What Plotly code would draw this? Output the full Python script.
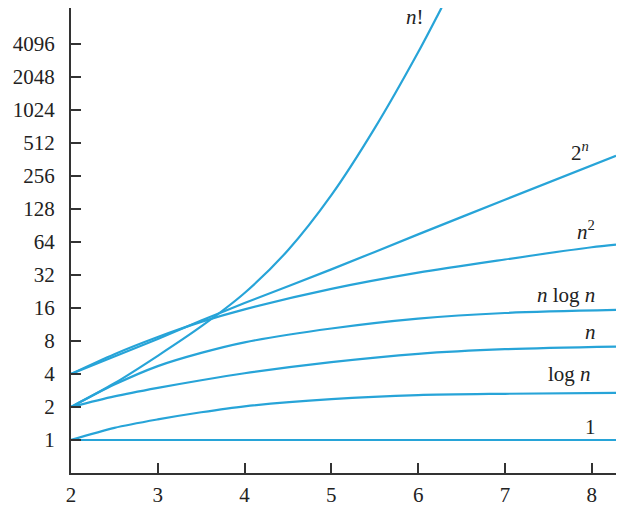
import math
import plotly.graph_objects as go

x_one = [2, 8.28]
y_one = [1, 1]

x_logn = [2, 2.5, 3, 3.5, 4, 5, 6, 7, 8.28]
y_logn = [1, 1.29, 1.54, 1.79, 2.03, 2.36, 2.57, 2.64, 2.69]

x_n = [2, 2.5, 3, 3.5, 4, 5, 6, 7, 8.28]
y_n = [2, 2.5, 2.99, 3.51, 4.06, 5.13, 6.11, 6.73, 7.11]

x_nlogn = [2, 2.5, 3, 3.5, 4, 5, 6, 7, 8.28]
y_nlogn = [2, 3.2, 4.72, 6.23, 7.78, 10.4, 12.8, 14.4, 15.35]

x_n2 = [2, 2.5, 3, 3.5, 4, 5, 6, 7, 8, 8.28]
y_n2 = [4, 6.06, 8.69, 11.96, 15.56, 23.9, 33.6, 44.3, 57.3, 60.5]

x_2n = [2, 2.5, 3, 3.5, 4, 5, 6, 7, 8.28]
y_2n = [4, 5.78, 8.34, 12.3, 17.75, 36.0, 75.1, 155.4, 390.7]

x_fact = [2, 2.5, 3, 3.5, 4, 4.5, 5, 5.5, 6, 6.27]
y_fact = [2, 3.29, 5.86, 10.85, 21.9, 53.8, 171, 699, 3440, 8780]

y_ticks = [1, 2, 4, 8, 16, 32, 64, 128, 256, 512, 1024, 2048, 4096]
x_ticks = [2, 3, 4, 5, 6, 7, 8]

curves = [
    (x_one, y_one), (x_logn, y_logn), (x_n, y_n), (x_nlogn, y_nlogn),
    (x_n2, y_n2), (x_2n, y_2n), (x_fact, y_fact),
]

# curve labels: text, x, y (real units), x anchor
labels = [
    ("<i>n</i>!", 5.96, 2 ** 12.82, "center"),
    ("2<sup><i>n</i></sup>", 7.99, 2 ** 8.73, "right"),
    ("<i>n</i><sup>2</sup>", 8.06, 2 ** 6.36, "right"),
    ("<i>n</i> log <i>n</i>", 8.06, 2 ** 4.39, "right"),
    ("<i>n</i>", 8.07, 2 ** 3.27, "right"),
    ("log <i>n</i>", 8.02, 2 ** 2.0, "right"),
    ("1", 8.07, 2 ** 0.39, "right"),
]

LINE = "#27a4d8"
AXIS = "#333333"
FONT = "Liberation Serif, Times New Roman, serif"

fig = go.Figure()
for xs, ys in curves:
    fig.add_trace(go.Scatter(
        x=xs, y=ys, mode="lines",
        line={"color": LINE, "width": 2.2, "shape": "spline", "smoothing": 0.8},
        showlegend=False, hoverinfo="skip",
    ))

# the page body adds an 8px margin, so the figure is 8px smaller than the window
fig.update_layout(
    width=630, height=506,
    margin={"l": 63, "r": 22, "t": 0, "b": 41},
    paper_bgcolor="white", plot_bgcolor="white",
    font={"family": FONT, "size": 21, "color": "#222"},
    annotations=[
        {"text": t, "x": x, "y": math.log10(y), "xref": "x", "yref": "y",
         "xanchor": xa, "yanchor": "middle", "showarrow": False,
         "font": {"family": FONT, "size": 21, "color": "#222"}}
        for t, x, y, xa in labels
    ],
)
fig.update_xaxes(
    range=[2, 8.28], tickvals=x_ticks, ticks="inside", ticklen=10,
    tickwidth=1.5, tickcolor=AXIS, showline=True, linecolor=AXIS,
    linewidth=2, showgrid=False, zeroline=False, ticklabelstandoff=2,
)
fig.update_yaxes(
    type="log", range=[math.log10(0.5), math.log10(2 ** 13.09)],
    tickvals=y_ticks, ticktext=[str(v) for v in y_ticks],
    ticks="inside", ticklen=10, tickwidth=1.5, tickcolor=AXIS,
    showline=True, linecolor=AXIS, linewidth=2, showgrid=False,
    zeroline=False, ticklabelstandoff=10,
)

fig.write_html("out.html")
